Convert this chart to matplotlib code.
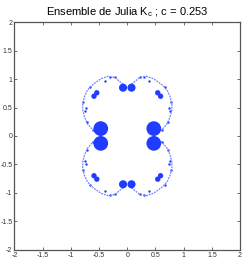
import numpy as np
import matplotlib
matplotlib.use("Agg")
import matplotlib.pyplot as plt

plt.rcParams['font.family'] = ['Liberation Sans', 'DejaVu Sans']

# contour du lobe haut-gauche, les 3 autres par symetrie
lobe_x = [-0.03, -0.10, -0.22, -0.34, -0.46, -0.55, -0.64, -0.71, -0.76, -0.79,
          -0.79, -0.76, -0.71, -0.64, -0.58, -0.47]
lobe_y = [0.88, 0.93, 1.03, 1.05, 1.01, 0.95, 0.88, 0.80, 0.69, 0.57,
          0.46, 0.34, 0.22, 0.14, 0.08, 0.0]

# petits points sombres sur le contour
dots_x = [-0.39, -0.30, -0.22, -0.74, -0.75, -0.66, -0.78, -0.72, -0.61]
dots_y = [0.97, 1.04, 1.03, 0.50, 0.44, 0.86, 0.60, 0.25, 0.11]

# disques (quadrant haut-gauche) : x, y, taille
disk_x = [-0.47, -0.075, -0.54, -0.59]
disk_y = [0.13, 0.85, 0.76, 0.70]
disk_s = [112, 34, 15, 15]

blue = '#1f3cff'
light = '#6f82ff'

fig = plt.figure(figsize=(2.45, 2.6), dpi=100)
ax = fig.add_axes([0.059, 0.040, 0.921, 0.874])

for sx in (1, -1):
    for sy in (1, -1):
        ax.plot(sx * np.array(lobe_x), sy * np.array(lobe_y), color=light,
                lw=0.9, ls=(0, (1.5, 0.8)))
        ax.scatter(sx * np.array(dots_x), sy * np.array(dots_y), s=3,
                   color=blue, lw=0)
        ax.scatter(sx * np.array(disk_x), sy * np.array(disk_y), s=disk_s,
                   color=blue, lw=0, zorder=3)

ax.set_xlim(-2, 2)
ax.set_ylim(-2, 2)
ticks = np.arange(-2, 2.01, 0.5)
labels = ['-2', '-1.5', '-1', '-0.5', '0', '0.5', '1', '1.5', '2']
ax.set_xticks(ticks)
ax.set_xticklabels(labels)
ax.set_yticks(ticks)
ax.set_yticklabels(labels)
ax.tick_params(direction='in', length=2, width=0.5, labelsize=5, pad=1.5,
               top=True, right=True, colors='#333333')
for sp in ax.spines.values():
    sp.set_color('#555555')
    sp.set_linewidth(0.9)

ax.set_title('Ensemble de Julia K$_\\mathregular{c}$ ; c = 0.253', fontsize=8, pad=5)

fig.savefig('out.png', dpi=100)
